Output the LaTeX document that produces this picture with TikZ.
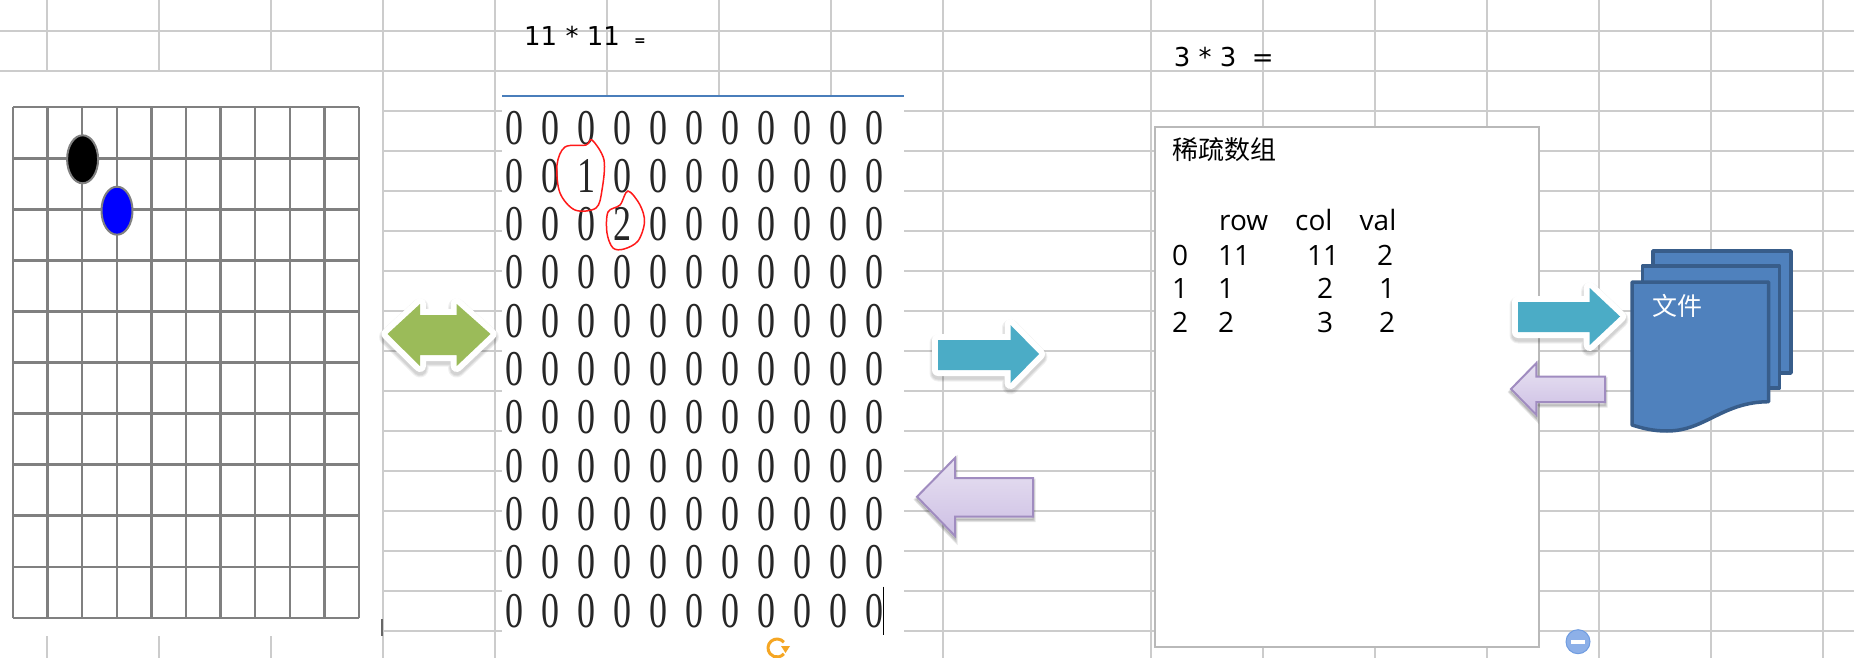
\documentclass[tikz,border=0pt]{standalone}
\usepackage{fontspec}
\usepackage{graphicx}
\setmainfont{DejaVu Sans}
\newfontfamily\serifdig{Liberation Serif}
\newfontfamily\tabfont{Open Sans}
\newfontfamily\cjk{Noto Sans CJK SC}
\definecolor{gridc}{HTML}{CCCCCC}
\definecolor{boardc}{HTML}{808080}
\definecolor{teal1}{HTML}{4BACC6}
\definecolor{green1}{HTML}{9BBB59}
\definecolor{docfill}{HTML}{4F81BD}
\definecolor{docline}{HTML}{385D8A}
\definecolor{purpline}{HTML}{A08CC0}
\definecolor{purptop}{HTML}{E8E2F2}
\definecolor{purpbot}{HTML}{CDBFE4}
\definecolor{linkblue}{HTML}{4A7EBB}
\definecolor{iconorange}{HTML}{F5A623}
\definecolor{minusfill}{HTML}{8DB0E8}
\definecolor{minusline}{HTML}{6F9CE0}
\newcommand{\mdig}[1]{\scalebox{.72}[1]{#1}}
\newcommand{\glowarrow}[2]{%
  \begin{scope}[yshift=-3pt]
    \foreach \w in {17,15,13}{\draw[black,opacity=.06,line width=\w pt,line join=round] #2;}
  \end{scope}
  \draw[white,line width=12pt,line join=round] #2;
  \fill[#1] #2;}
\newcommand{\purparrow}[1]{%
  \begin{scope}[yshift=-3pt]
    \foreach \w in {5,3,1}{\draw[black,opacity=.1,line width=\w pt,line join=miter] #1;}
  \end{scope}
  \draw[purpline,line width=2pt,line join=miter,top color=purptop,bottom color=purpbot] #1;}
\tikzset{
  gridline/.style={draw=gridc,line width=1.8pt},
  boardline/.style={draw=boardc,line width=2.4pt},
  digit/.style={font=\serifdig\fontsize{50}{50}\selectfont,text=black!85,inner sep=0pt},
  sizelabel/.style={font=\fontsize{26}{30}\selectfont,anchor=base west,inner sep=0pt},
  cell/.style={font=\tabfont\fontsize{28}{32}\selectfont,anchor=base west,inner sep=0pt},
  cjklabel/.style={font=\cjk\fontsize{26}{30}\selectfont,anchor=west,inner sep=0pt},
  docsheet/.style={fill=docfill,draw=docline,line width=3.5pt,line join=round},
  stone/.style={draw=boardc,line width=2pt},
}
\begin{document}
\begin{tikzpicture}[x=1pt,y=-1pt]
\useasboundingbox (0,0) rectangle (1854,658);
\fill[white] (0,0) rectangle (1854,658);
% spreadsheet grid
\foreach \x in {46.7,159,271,383,495,607,719,831,943,1151,1263,1375,1487,1599,1711,1823}
  \draw[gridline] (\x,0) -- (\x,658);
\foreach \y in {31,71,110.7,150.7,190.7,230.7,270.7,310.7,350.7,390.7,430.7,470.7,510.7,550.7,590.7,630.7}
  \draw[gridline] (0,\y) -- (1854,\y);
% pictures pasted over the grid
\fill[white] (0,72) rectangle (382,636);
\fill[white] (502,96) rectangle (904,658);
% go board
\foreach \x in {13,47.6,82.2,116.8,151.4,186,220.6,255.2,289.8,324.4,359}
  \draw[boardline] (\x,107.3) -- (\x,617.7);
\foreach \y in {107.3,158.3,209.4,260.4,311.5,362.5,413.6,464.6,515.6,566.7,617.7}
  \draw[boardline] (13,\y) -- (359,\y);
\draw[stone,fill=black] (82.6,159.3) ellipse [x radius=15.5,y radius=24];
\draw[stone,fill=blue] (117,210.7) ellipse [x radius=15.5,y radius=24];
\fill[boardc!80!black] (380.5,619) rectangle (382.5,636);
% matrix
\draw[linkblue,line width=2pt] (502,96.5) -- (904,96.5);
\foreach \rowidx in {0,...,10}{
  \foreach \colidx in {0,...,10}{
    \pgfmathsetmacro{\digx}{514+36*\colidx}
    \pgfmathsetmacro{\digy}{127.7+48.3*\rowidx}
    \ifnum\numexpr\rowidx*100+\colidx\relax=102
      \node[digit] (m\rowidx-\colidx) at (\digx,\digy) {\mdig{1}};
    \else\ifnum\numexpr\rowidx*100+\colidx\relax=203
      \node[digit] (m\rowidx-\colidx) at (\digx,\digy) {\mdig{2}};
    \else
      \node[digit] (m\rowidx-\colidx) at (\digx,\digy) {\mdig{0}};
    \fi\fi
  }
}
\draw[red!90!white,line width=1.5pt] plot[smooth cycle,tension=.55] coordinates
  {(592,140) (604,160) (602,190) (596,208) (575,210) (560,193) (557,165) (565,147) (586,145)};
\draw[red!90!white,line width=1.5pt] plot[smooth cycle,tension=.55] coordinates
  {(628,191) (640,205) (644.5,222) (638,241) (624,249) (613,248) (607,233) (608,212) (620,205)};
\draw[black,line width=1.5pt] (883.7,586.7) -- (883.7,635);
% size labels
\node[sizelabel] (t11) at (524,46) {11 * 11\hspace{.55em}{\fontsize{14}{14}\selectfont\bfseries =}};
\node[sizelabel] (t3) at (1173.6,66.7) {3 * 3\hspace{.6em}=};
% sparse-array box
\draw[draw=gray!55,line width=2pt,fill=white] (1155,127) rectangle (1539,647);
\node[cjklabel] (title) at (1172,150) {稀疏数组};
\node[cell] (hrow) at (1219,230) {row};
\node[cell] (hcol) at (1295,230) {col};
\node[cell] (hval) at (1359.5,230) {val};
\node[cell] (a0) at (1172,265) {0};
\node[cell] (b0) at (1218,265) {11};
\node[cell] (c0) at (1307,265) {11};
\node[cell] (d0) at (1377,265) {2};
\node[cell] (a1) at (1172,298.5) {1};
\node[cell] (b1) at (1218,298.5) {1};
\node[cell] (c1) at (1317,298.5) {2};
\node[cell] (d1) at (1379,298.5) {1};
\node[cell] (a2) at (1172,332) {2};
\node[cell] (b2) at (1218,332) {2};
\node[cell] (c2) at (1317,332) {3};
\node[cell] (d2) at (1379,332) {2};
% file stack
\draw[docsheet] (1653,251) -- (1791,251) -- (1791,373) -- (1653,373) -- cycle;
\draw[docsheet] (1642.6,266) -- (1779.6,266) -- (1779.6,388) -- (1642.6,388) -- cycle;
\draw[docsheet] (1632,282) -- (1768.7,282) -- (1768.7,401.7)
  .. controls (1722,402) and (1705,431) .. (1667,431)
  .. controls (1652,431) and (1642,428) .. (1632,425) -- cycle;
\node[cjklabel,text=white,font=\cjk\fontsize{25}{30}\selectfont] (file) at (1652,306) {文件};
% block arrows
\glowarrow{green1}{(387.5,334) -- (420,304) -- (420,315) -- (456.7,315) -- (456.7,304) -- (490.5,334) -- (456.7,366) -- (456.7,355) -- (420,355) -- (420,366) -- cycle}
\glowarrow{teal1}{(938,340) -- (1010.5,340) -- (1010.5,325) -- (1039,354) -- (1010.5,383) -- (1010.5,370) -- (938,370) -- cycle}
\purparrow{(917,496.7) -- (955,458) -- (955,478) -- (1033,478) -- (1033,516.7) -- (955,516.7) -- (955,536) -- cycle}
\glowarrow{teal1}{(1518,302) -- (1589.7,302) -- (1589.7,288) -- (1620,316.5) -- (1589.7,345) -- (1589.7,332) -- (1518,332) -- cycle}
\purparrow{(1511,389) -- (1536.4,363) -- (1536.4,376.7) -- (1605,376.7) -- (1605,402) -- (1536.4,402) -- (1536.4,415) -- cycle}
% handle icons
\draw[iconorange,line width=3pt] (777,648) ++(40:9pt) arc[start angle=40,end angle=320,radius=9pt];
\fill[iconorange] (781,646) -- (790,646) -- (785.5,653) -- cycle;
\draw[draw=minusline,fill=minusfill,line width=1pt] (1578,641.7) ellipse [x radius=12,y radius=12];
\fill[white] (1571,640) rectangle (1585,644);
\end{tikzpicture}
\end{document}
